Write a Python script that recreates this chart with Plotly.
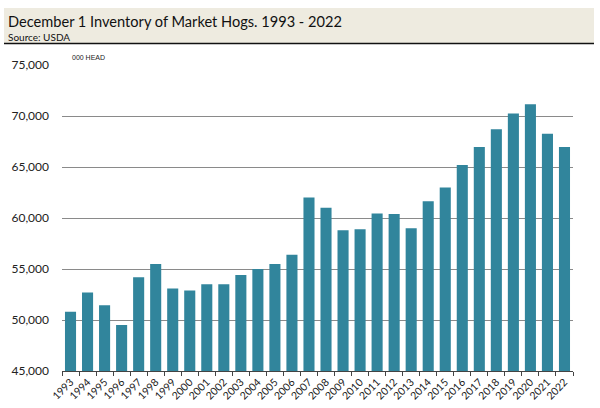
import plotly.graph_objects as go

years = [str(y) for y in range(1993, 2023)]
inventory = [50800, 52700, 51450, 49500, 54200, 55500, 53100, 52900, 53500, 53500,
             54400, 55000, 55500, 56400, 62000, 61000, 58800, 58900, 60450, 60400,
             59000, 61650, 63000, 65200, 66950, 68700, 70250, 71150, 68250, 66950]
y_ticks = [45000, 50000, 55000, 60000, 65000, 70000, 75000]

title_text = "December 1 Inventory of Market Hogs. 1993 - 2022"
source_text = "Source: USDA"
unit_text = "000 HEAD"

W, H = 600, 408
L, R, T, B = 62, 27, 65, 37
pw, ph = W - L - R, H - T - B

def px(x):
    return (x - L) / pw

def py(y):
    return (H - B - y) / ph

fig = go.Figure()
fig.add_trace(go.Bar(x=years, y=inventory, marker=dict(color="#31859C", line=dict(width=0)),
                     hoverinfo="x+y"))

fig.update_layout(
    width=W, height=H,
    margin=dict(l=L, r=R, t=T, b=B, autoexpand=False),
    paper_bgcolor="white", plot_bgcolor="white",
    bargap=0.35,
    showlegend=False,
    font=dict(family="Lato, sans-serif", color="#222"),
    xaxis=dict(type="category", showgrid=False, showline=True, linecolor="#444", linewidth=1,
               ticks="outside", ticklen=4, tickcolor="#444", tickson="boundaries",
               tickangle=-45, tickfont=dict(size=10.5, color="#1a1a1a"), fixedrange=True,
               automargin=False),
    yaxis=dict(range=[45000, 75000], tickvals=y_ticks, tickformat=",d",
               showgrid=True, gridcolor="#8a8a8a", gridwidth=1, zeroline=False,
               showline=False, ticks="", ticklabelstandoff=12,
               tickfont=dict(size=12, color="#222"), fixedrange=True,
               automargin=False),
)

# title band
fig.add_shape(type="rect", xref="paper", yref="paper",
              x0=px(4), x1=px(594), y0=py(43), y1=py(8),
              fillcolor="#EEEBE0", line=dict(width=0), layer="below")
fig.add_shape(type="line", xref="paper", yref="paper",
              x0=px(4), x1=px(594), y0=py(43.5), y1=py(43.5),
              line=dict(color="#111", width=1.5))

fig.add_annotation(text=title_text, xref="paper", yref="paper", x=px(6), y=py(21),
                   xanchor="left", yanchor="middle", showarrow=False,
                   font=dict(family="Lato, sans-serif", size=14.6, color="#111"))
fig.add_annotation(text=source_text, xref="paper", yref="paper", x=px(6), y=py(37),
                   xanchor="left", yanchor="middle", showarrow=False,
                   font=dict(family="Lato, sans-serif", size=10, color="#111"))
fig.add_annotation(text=unit_text, xref="paper", yref="paper", x=px(70), y=py(57),
                   xanchor="left", yanchor="middle", showarrow=False,
                   font=dict(family="Liberation Sans, Arial, sans-serif", size=7, color="#222"))

fig.write_html("out.html", config={"displayModeBar": False},
               post_script="document.body.style.margin='0';")
